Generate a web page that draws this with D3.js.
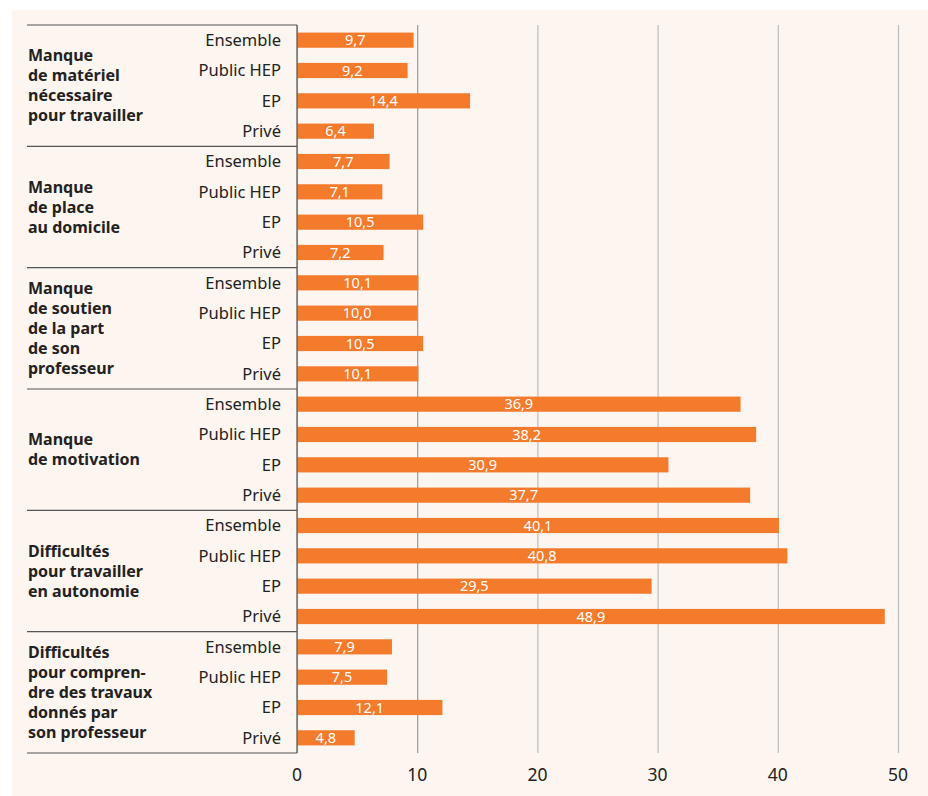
<!DOCTYPE html>
<html>
<head>
<meta charset="utf-8">
<script src="https://cdn.jsdelivr.net/npm/d3@7"></script>
<style>
  body { margin: 0; background: #fff; }
  svg { display: block; font-family: "Noto Sans", sans-serif; }
</style>
</head>
<body>
<div id="chart"></div>
<script>
// data
var groups = [
  ["Manque", "de matériel", "nécessaire", "pour travailler"],
  ["Manque", "de place", "au domicile"],
  ["Manque", "de soutien", "de la part", "de son", "professeur"],
  ["Manque", "de motivation"],
  ["Difficultés", "pour travailler", "en autonomie"],
  ["Difficultés", "pour compren-", "dre des travaux", "donnés par", "son professeur"]
];
var rows = ["Ensemble", "Public HEP", "EP", "Privé"];
var values = [
  [9.7, 9.2, 14.4, 6.4],
  [7.7, 7.1, 10.5, 7.2],
  [10.1, 10.0, 10.5, 10.1],
  [36.9, 38.2, 30.9, 37.7],
  [40.1, 40.8, 29.5, 48.9],
  [7.9, 7.5, 12.1, 4.8]
];
var ticks = [0, 10, 20, 30, 40, 50];

var svgWidth = 928;
var svgHeight = 796;

var svg = d3.select("#chart")
  .append("svg")
  .attr("width", svgWidth)
  .attr("height", svgHeight);

// beige panel
svg.append("rect")
  .attr("x", 12)
  .attr("y", 10)
  .attr("width", svgWidth - 12)
  .attr("height", svgHeight - 10)
  .attr("fill", "#fdf5ef");

// scales
var xScale = d3.scaleLinear()
  .domain([0, 50])
  .range([297, 898]);

var yGroup = d3.scaleBand()
  .domain(d3.range(groups.length))
  .range([25, 753]);

var yRow = d3.scaleBand()
  .domain(rows)
  .range([0, yGroup.bandwidth()])
  .paddingInner(0.5)
  .paddingOuter(0.25);

// grid lines
var grid = svg.append("g")
  .attr("transform", "translate(0,753)")
  .call(d3.axisBottom(xScale).tickValues(ticks).tickSize(-728).tickFormat(""));
grid.select(".domain").remove();
grid.selectAll(".tick line")
  .attr("stroke", (d) => d === 10 ? "#999" : "#bdbdbd")
  .attr("stroke-width", 1.2);

// tick labels
svg.append("g")
  .selectAll("text")
  .data(ticks)
  .enter()
  .append("text")
  .attr("x", d => xScale(d))
  .attr("y", 781)
  .attr("text-anchor", "middle")
  .attr("font-size", 17.5)
  .attr("fill", "#222")
  .text(d => d);

// one g per group
var groupG = svg.selectAll(".group")
  .data(groups)
  .enter()
  .append("g")
  .attr("class", "group")
  .attr("transform", (d, i) => `translate(0, ${yGroup(i)})`);

// bars
groupG.selectAll("rect")
  .data((d, i) => values[i].map((v, j) => ({ row: rows[j], value: v })))
  .enter()
  .append("rect")
  .attr("x", xScale(0))
  .attr("y", d => yRow(d.row))
  .attr("width", d => xScale(d.value) - xScale(0))
  .attr("height", yRow.bandwidth())
  .attr("fill", "#f47a2c");

// values in bars
groupG.selectAll(".val")
  .data((d, i) => values[i].map((v, j) => ({ row: rows[j], value: v })))
  .enter()
  .append("text")
  .attr("class", "val")
  .attr("x", d => (xScale(0) + xScale(d.value)) / 2)
  .attr("y", d => yRow(d.row) + yRow.bandwidth() / 2)
  .attr("dy", "0.36em")
  .attr("text-anchor", "middle")
  .attr("font-size", 14.5)
  .attr("fill", "#fff")
  .text(d => d3.format(".1f")(d.value).replace(".", ","));

// row labels
groupG.selectAll(".row")
  .data(rows)
  .enter()
  .append("text")
  .attr("class", "row")
  .attr("x", 281)
  .attr("y", d => yRow(d) + yRow.bandwidth() / 2)
  .attr("dy", "0.36em")
  .attr("text-anchor", "end")
  .attr("font-size", 16.5)
  .attr("fill", "#222")
  .text(d => d);

// group labels, centered vertically
groupG.append("text")
  .attr("font-size", 16)
  .attr("font-weight", "bold")
  .attr("fill", "#222")
  .each(function(lines) {
    var mid = yGroup.bandwidth() / 2;
    var start = mid - (lines.length - 1) * 20 / 2;
    d3.select(this).selectAll("tspan")
      .data(lines)
      .enter()
      .append("tspan")
      .attr("x", 28)
      .attr("y", (d, k) => start + k * 20)
      .attr("dy", "0.36em")
      .text(d => d);
  });

// separator lines
svg.append("g")
  .selectAll("line")
  .data(d3.range(groups.length + 1))
  .enter()
  .append("line")
  .attr("x1", 27)
  .attr("x2", 297)
  .attr("y1", i => i < groups.length ? yGroup(i) : 753)
  .attr("y2", i => i < groups.length ? yGroup(i) : 753)
  .attr("stroke", "#555")
  .attr("stroke-width", 1.2);

// left axis line
svg.append("line")
  .attr("x1", xScale(0))
  .attr("x2", xScale(0))
  .attr("y1", 25)
  .attr("y2", 753)
  .attr("stroke", "#555")
  .attr("stroke-width", 1.2);
</script>
</body>
</html>
